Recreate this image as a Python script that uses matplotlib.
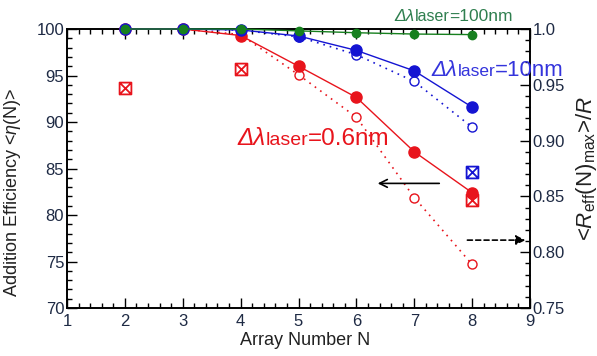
import matplotlib
matplotlib.use("Agg")
import matplotlib.pyplot as plt
from matplotlib.path import Path
from matplotlib.ticker import MultipleLocator, FixedLocator, FixedFormatter
from matplotlib.transforms import offset_copy

plt.rcParams['font.family'] = ['Liberation Sans', 'DejaVu Sans']
plt.rcParams['mathtext.fontset'] = 'custom'
plt.rcParams['mathtext.rm'] = 'Liberation Sans'
plt.rcParams['mathtext.it'] = 'Liberation Sans:italic'

# Array sizes
n = [2, 3, 4, 5, 6, 7, 8]

# Addition efficiency <eta(N)> (%), left axis
eta_06 = [100.0, 100.0, 99.3, 96.0, 92.65, 86.8, 82.4]
eta_10 = [100.0, 100.0, 99.9, 99.25, 97.7, 95.5, 91.6]
eta_100 = [100.0, 100.0, 100.0, 99.8, 99.6, 99.46, 99.4]

# Normalised maximum effective reflectance, right axis
r_06 = [1.0, 1.0, 0.995, 0.959, 0.921, 0.849, 0.789]
r_10 = [1.0, 1.0, 0.999, 0.993, 0.977, 0.953, 0.912]

# Measured points
meas_red_n = [2, 4, 8]
meas_red_eta = [93.65, 95.7, 81.6]
meas_blue_n = [8]
meas_blue_eta = [84.6]

RED = '#e8141c'
BLUE = '#1414d2'
GREEN = '#17801f'
TICKC = '#1e2a44'

# square with both diagonals
boxx = Path([(-1, -1), (1, -1), (1, 1), (-1, 1), (-1, -1), (1, 1), (-1, 1), (1, -1)],
            [Path.MOVETO, Path.LINETO, Path.LINETO, Path.LINETO, Path.LINETO,
             Path.LINETO, Path.MOVETO, Path.LINETO])

fig = plt.figure(figsize=(5.97, 3.56), dpi=100)
ax = fig.add_axes([0.1122, 0.1348, 0.7756, 0.7837])
ax2 = ax.twinx()

ax.set_xlim(1, 9)
ax.set_ylim(70, 100)
ax2.set_ylim(0.75, 1.0)

# right-axis (dotted, hollow) series
ax2.plot(n, r_06, ls=(0, (1, 3)), lw=1.2, color=RED, marker='o', ms=6.5,
         mfc='white', mec=RED, mew=1.0, clip_on=False, zorder=2)
ax2.plot(n, r_10, ls=(0, (1, 3)), lw=1.2, color=BLUE, marker='o', ms=6.5,
         mfc='white', mec=BLUE, mew=1.0, clip_on=False, zorder=2)

# left-axis (solid, filled) series on top
ax2.set_zorder(1)
ax.set_zorder(2)
ax.patch.set_visible(False)

ax.plot(n, eta_06, '-', lw=1.0, color=RED, marker='o', ms=8, mfc=RED, mec=RED,
        clip_on=False, zorder=3)
ax.plot(n, eta_10, '-', lw=1.0, color=BLUE, marker='o', ms=8, mfc=BLUE, mec=BLUE,
        clip_on=False, zorder=3)
ax.plot(n, eta_100, '-', lw=1.0, color=GREEN, marker='o', ms=6, mfc=GREEN, mec=GREEN,
        clip_on=False, zorder=4)

ax.plot(meas_red_n, meas_red_eta, ls='none', marker=boxx, ms=8.5, mfc='none',
        mec=RED, mew=1.3, zorder=5)
ax.plot(meas_blue_n, meas_blue_eta, ls='none', marker=boxx, ms=8.5, mfc='none',
        mec=BLUE, mew=1.3, zorder=5)

# arrows showing which axis each line style belongs to
ax.annotate('', xy=(6.32, 83.4), xytext=(7.48, 83.4),
            arrowprops=dict(arrowstyle='->', color='black', lw=1.2,
                            mutation_scale=14))
ax.annotate('', xy=(8.97, 77.3), xytext=(7.87, 77.3),
            arrowprops=dict(arrowstyle='-|>', color='black', lw=1.2, ls=(0, (3, 2)),
                            mutation_scale=14))

# ticks
ax.xaxis.set_major_locator(MultipleLocator(1))
ax.xaxis.set_minor_locator(MultipleLocator(0.2))
ax.yaxis.set_major_locator(MultipleLocator(5))
ax.yaxis.set_minor_locator(MultipleLocator(1))
ax.tick_params(which='both', direction='in', top=True, right=False,
               labelsize=12, colors='black', labelcolor=TICKC, width=1.0)
ax.tick_params(which='major', length=7)
ax.tick_params(which='minor', length=3.5)
ax.tick_params(axis='x', pad=4)
ax.tick_params(axis='y', pad=2)

rt = [0.75, 0.80, 0.85, 0.90, 0.95, 1.0]
rl = ['0.75', '0.80', '0.85', '0.90', '0.95', '1.0']
ax2.yaxis.set_major_locator(FixedLocator(rt))
ax2.yaxis.set_major_formatter(FixedFormatter(rl))
ax2.yaxis.set_minor_locator(MultipleLocator(0.01))
ax2.tick_params(which='both', direction='in', labelsize=12, labelcolor=TICKC,
                width=1.0, pad=2)
ax2.tick_params(which='major', length=7)
ax2.tick_params(which='minor', length=3.5)

for a in (ax, ax2):
    for s in a.spines.values():
        s.set_linewidth(1.2)

ax.set_xlabel('Array Number N', fontsize=13, color='#222222')
ax.xaxis.set_label_coords(0.514, -0.085)
ax.set_ylabel('Addition Efficiency <$\\eta$(N)>', fontsize=13, color='#222222')
ax.yaxis.set_label_coords(-0.095, 0.415)
ax2.set_ylabel('<$R_{\\mathrm{eff}}\\mathrm{(N)}_{\\mathrm{max}}$>/$R$', fontsize=16,
               color='#222222', labelpad=6)


def chain_text(axis, x, y, parts, color):
    renderer = fig.canvas.get_renderer()
    dx = 0.0
    for s, size, italic in parts:
        tr = offset_copy(axis.transData, fig=fig, x=dx, y=0, units='dots')
        t = axis.text(x, y, s, transform=tr, fontsize=size, color=color,
                      style='italic' if italic else 'normal',
                      ha='left', va='baseline', clip_on=False, zorder=6)
        dx += t.get_window_extent(renderer).width


chain_text(ax, 6.66, 100.9, [('Δλ', 12.5, True), ('laser', 11.5, False),
                             ('=100nm', 12.5, False)], '#2f7f4f')
chain_text(ax, 7.30, 94.9, [('Δλ', 16, True), ('laser', 12.5, False),
                            ('=10nm', 16, False)], '#3434dc')
chain_text(ax, 3.94, 87.5, [('Δλ', 17.5, True), ('laser', 14, False),
                            ('=0.6nm', 17.5, False)], RED)

fig.savefig('out.png', dpi=100)
